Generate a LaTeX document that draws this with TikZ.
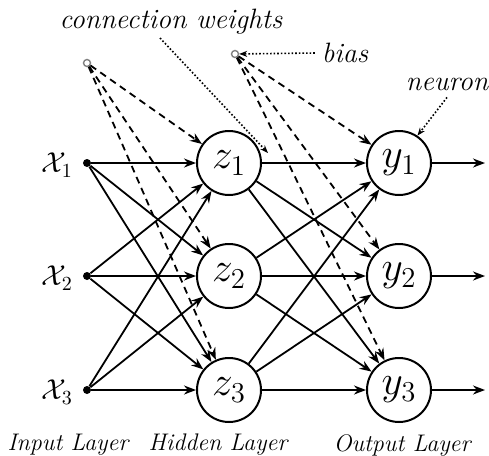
\documentclass[tikz,border=0pt]{standalone}
\usetikzlibrary{arrows.meta}
\begin{document}
\begin{tikzpicture}[x=0.5pt, y=-0.5pt,
    unit/.style={draw, line width=1pt, circle, minimum size=32pt, inner sep=0pt, font=\fontsize{20}{24}\selectfont},
    inp/.style={circle, fill, inner sep=0pt, minimum size=4pt},
    bdot/.style={circle, draw=gray, line width=0.7pt, inner sep=0pt, minimum size=3.5pt},
    conn/.style={-{Stealth[length=6pt,width=4.5pt]}, line width=0.9pt},
    bconn/.style={conn, dash pattern=on 3.5pt off 2.5pt},
    note/.style={-{Stealth[length=4pt,width=3pt]}, line width=0.8pt, densely dotted},
    lab/.style={font=\fontsize{14}{16}\selectfont\itshape},
    layer/.style={font=\fontsize{12}{14}\selectfont\itshape}]
    \useasboundingbox (0,0) rectangle (489,456);

    % Nodes
    \node[inp] (X1) at (87,163) {};
    \node[inp] (X2) at (87,276) {};
    \node[inp] (X3) at (87,390) {};

    \node[unit] (Z1) at (229,163) {$z_{1}$};
    \node[unit] (Z2) at (229,276) {$z_{2}$};
    \node[unit] (Z3) at (229,390) {$z_{3}$};

    \node[unit] (Y1) at (399,163) {$y_{1}$};
    \node[unit] (Y2) at (399,276) {$y_{2}$};
    \node[unit] (Y3) at (399,390) {$y_{3}$};

    \node[bdot] (B1) at (87,63) {};
    \node[bdot] (B2) at (235,54) {};

    \coordinate (O1) at (485,163);
    \coordinate (O2) at (485,276);
    \coordinate (O3) at (485,390);
    \coordinate (CWs) at (160,38);
    \coordinate (CWe) at (268,153);

    \node[lab, anchor=east] (LX1) at (80,165) {$\mathcal{X}_1$};
    \node[lab, anchor=east] (LX2) at (80,278) {$\mathcal{X}_2$};
    \node[lab, anchor=east] (LX3) at (80,392) {$\mathcal{X}_3$};

    \node[lab] (CW) at (171,22) {connection weights};
    \node[lab] (BL) at (345,53) {bias};
    \node[lab] (NL) at (447,84) {neuron};

    % Lines
    \foreach \i in {1,2,3}{
        \foreach \j in {1,2,3}{
            \draw[conn] (X\i) -- (Z\j);
            \draw[conn] (Z\i) -- (Y\j);
        }
        \draw[bconn] (B1) -- (Z\i);
        \draw[bconn] (B2) -- (Y\i);
        \draw[conn] (Y\i) -- (O\i);
    }

    \draw[note] (CWs) -- (CWe);
    \draw[note] (BL.west) -- (B2);
    \draw[note] (NL.south) -- (Y1.56);

    \node[layer] (IL) at (68,445) {Input Layer};
    \node[layer] (HL) at (218,445) {Hidden Layer};
    \node[layer] (OL) at (402,445) {Output Layer};

\end{tikzpicture}
\end{document}
